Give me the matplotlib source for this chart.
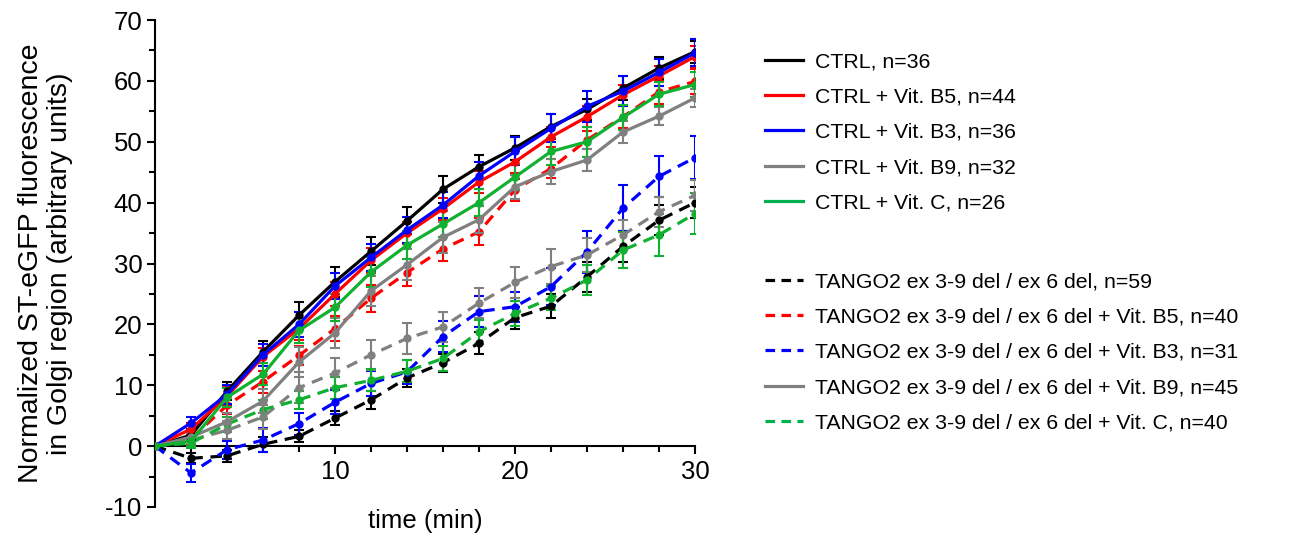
import matplotlib
matplotlib.use("Agg")
import matplotlib.pyplot as plt
from matplotlib.lines import Line2D
from matplotlib.ticker import MultipleLocator

plt.rcParams['font.family'] = ['Liberation Sans', 'DejaVu Sans']
plt.rcParams['axes.unicode_minus'] = False

time = [0, 2, 4, 6, 8, 10, 12, 14, 16, 18, 20, 22, 24, 26, 28, 30]

ctrl = [0, 1.8, 9.0, 15.5, 21.5, 27.0, 32.0, 37.0, 42.2, 45.9, 49.0, 52.5, 55.3, 58.8, 62.1, 64.8]
ctrl_b5 = [0, 2.8, 8.2, 14.7, 19.3, 25.0, 30.5, 35.0, 39.0, 43.4, 46.7, 50.8, 54.1, 57.7, 60.8, 64.0]
ctrl_b3 = [0, 3.8, 8.5, 15.0, 20.0, 26.3, 31.0, 35.5, 39.6, 44.4, 48.4, 52.2, 55.8, 58.3, 61.4, 64.6]
ctrl_b9 = [0, 1.5, 4.0, 7.4, 13.8, 18.6, 25.5, 29.8, 34.3, 37.2, 42.6, 45.1, 47.0, 51.6, 54.2, 57.2]
ctrl_c = [0, 0.8, 8.0, 11.8, 19.0, 22.8, 28.6, 33.0, 36.5, 40.0, 44.2, 48.4, 50.0, 54.0, 57.8, 59.4]

tg = [0, -2.0, -1.6, 0.3, 1.6, 4.6, 7.6, 11.2, 13.7, 16.9, 21.1, 23.0, 27.8, 32.8, 37.1, 40.0]
tg_b5 = [0, 1.2, 6.7, 10.6, 14.9, 19.3, 24.3, 28.5, 32.4, 35.2, 42.1, 45.6, 50.3, 54.1, 58.2, 59.9]
tg_b3 = [0, -4.4, -0.6, 1.0, 3.7, 7.2, 10.3, 12.2, 18.0, 22.1, 22.9, 26.2, 31.9, 39.1, 44.3, 47.4]
tg_b9 = [0, 1.0, 2.6, 4.8, 9.6, 12.0, 15.0, 17.7, 19.6, 23.5, 26.9, 29.5, 31.4, 34.7, 38.5, 41.2]
tg_c = [0, 0.5, 3.6, 6.0, 7.6, 9.6, 10.8, 12.3, 14.4, 18.8, 21.8, 24.3, 27.3, 32.2, 34.7, 38.2]

err_ctrl = [0, 0.8, 1.5, 1.8, 2.2, 2.5, 2.3, 2.2, 2.2, 2.0, 2.0, 2.0, 1.8, 2.0, 1.8, 1.8]
err_ctrl_b5 = [0, 1.0, 1.5, 1.5, 1.8, 2.0, 2.0, 1.8, 1.8, 1.8, 1.8, 1.7, 1.7, 1.7, 1.7, 1.7]
err_ctrl_b3 = [0, 1.0, 1.5, 1.8, 2.0, 2.2, 2.2, 2.2, 2.2, 2.2, 2.3, 2.3, 2.5, 2.5, 2.2, 2.2]
err_ctrl_b9 = [0, 0.8, 1.5, 2.0, 2.5, 2.5, 2.5, 2.5, 2.5, 2.2, 2.0, 2.0, 1.8, 1.8, 1.5, 1.5]
err_ctrl_c = [0, 0.8, 1.5, 1.8, 2.0, 2.2, 2.5, 2.3, 2.2, 2.2, 2.2, 2.2, 2.5, 2.0, 2.0, 2.0]
err_tg = [0, 0.8, 1.0, 1.2, 1.0, 1.2, 1.5, 1.5, 1.5, 1.8, 1.8, 2.0, 2.5, 2.5, 2.5, 2.5]
err_tg_b5 = [0, 1.0, 1.5, 1.8, 1.5, 2.0, 2.2, 2.2, 2.0, 2.2, 1.8, 1.5, 1.5, 1.8, 2.0, 2.0]
err_tg_b3 = [0, 1.5, 1.5, 2.0, 1.8, 2.0, 2.0, 2.0, 2.5, 2.5, 2.5, 3.0, 3.5, 3.8, 3.3, 3.5]
err_tg_b9 = [0, 1.0, 1.5, 2.0, 2.5, 2.5, 2.5, 2.5, 2.5, 2.5, 2.5, 2.8, 2.8, 2.5, 2.5, 2.5]
err_tg_c = [0, 0.8, 1.2, 1.5, 1.5, 1.8, 1.8, 1.8, 2.0, 2.0, 2.0, 2.0, 2.5, 3.0, 3.5, 3.3]

labels_ctrl = ["CTRL, n=36", "CTRL + Vit. B5, n=44", "CTRL + Vit. B3, n=36",
               "CTRL + Vit. B9, n=32", "CTRL + Vit. C, n=26"]
labels_tg = ["TANGO2 ex 3-9 del / ex 6 del, n=59",
             "TANGO2 ex 3-9 del / ex 6 del + Vit. B5, n=40",
             "TANGO2 ex 3-9 del / ex 6 del + Vit. B3, n=31",
             "TANGO2 ex 3-9 del / ex 6 del + Vit. B9, n=45",
             "TANGO2 ex 3-9 del / ex 6 del + Vit. C, n=40"]

colors = ['#000000', '#ff0000', '#0000ff', '#808080', '#00b050']
plot_green = '#10b030'

fig = plt.figure(figsize=(13.01, 5.35), dpi=100)
ax = fig.add_axes([155/1301, 1-507/535, 540/1301, 487/535])

dash = (0, (3.6, 2.4))
lw = 2.3

ctrl_series = [(ctrl, err_ctrl), (ctrl_b5, err_ctrl_b5), (ctrl_b3, err_ctrl_b3),
               (ctrl_b9, err_ctrl_b9), (ctrl_c, err_ctrl_c)]
tg_series = [(tg, err_tg), (tg_b5, err_tg_b5), (tg_b3, err_tg_b3),
             (tg_b9, err_tg_b9), (tg_c, err_tg_c)]

def draw(vals, errs, col, ls, z):
    return ax.errorbar(time, vals, yerr=errs, color=col, lw=lw, ls=ls, marker='o', ms=5,
                       elinewidth=1.5, capsize=3.5, capthick=1.5, zorder=z)

for i in [3, 4, 1, 2, 0]:
    v, e = tg_series[i]
    c = plot_green if i == 4 else colors[i]
    draw(v, e, c, dash, 3 + i * 0.01)
for i in [3, 4, 1, 2, 0]:
    v, e = ctrl_series[i]
    c = plot_green if i == 4 else colors[i]
    draw(v, e, c, '-', 4 + i * 0.01)

ax.set_xlim(0, 30)
ax.set_ylim(-10, 70)
ax.spines['top'].set_visible(False)
ax.spines['right'].set_visible(False)
ax.spines['bottom'].set_position(('data', 0))
for s in ['left', 'bottom']:
    ax.spines[s].set_linewidth(1.5)

ax.xaxis.set_major_locator(MultipleLocator(10))
ax.xaxis.set_minor_locator(MultipleLocator(2))
ax.yaxis.set_major_locator(MultipleLocator(10))
ax.yaxis.set_minor_locator(MultipleLocator(5))
ax.set_xticks([10, 20, 30])
ax.tick_params(axis='both', which='major', direction='out', length=6, width=1.5,
               labelsize=18.5, pad=3)
ax.tick_params(axis='x', which='major', pad=4)
ax.tick_params(axis='both', which='minor', direction='out', length=4.5, width=1.5)

ax.set_xlabel("time (min)", fontsize=18.5)
ax.xaxis.set_label_coords(0.5, -0.005)
ax.xaxis.label.set_va('top')
ax.set_ylabel("Normalized ST-eGFP fluorescence\nin Golgi region (arbitrary units)",
              fontsize=20.5, linespacing=1.17)
ax.yaxis.set_label_coords(-0.152, 0.5)

h1 = [Line2D([], [], color=colors[i], lw=lw, ls='-') for i in range(5)]
h2 = [Line2D([], [], color=colors[i], lw=lw, ls=('-' if i == 3 else (0, (3.0, 2.0))))
      for i in range(5)]

leg_kw = dict(loc='upper left', bbox_transform=fig.transFigure, frameon=False,
              fontsize=15.3, handlelength=1.77, handletextpad=0.6, labelspacing=0.77,
              borderaxespad=0, borderpad=0)
leg1 = ax.legend(h1, labels_ctrl, bbox_to_anchor=(765/1301, 1-52/535), **leg_kw)
ax.add_artist(leg1)
leg2 = ax.legend(h2, labels_tg, bbox_to_anchor=(765/1301, 1-272/535), **leg_kw)

fig.savefig("out.png", dpi=100)
